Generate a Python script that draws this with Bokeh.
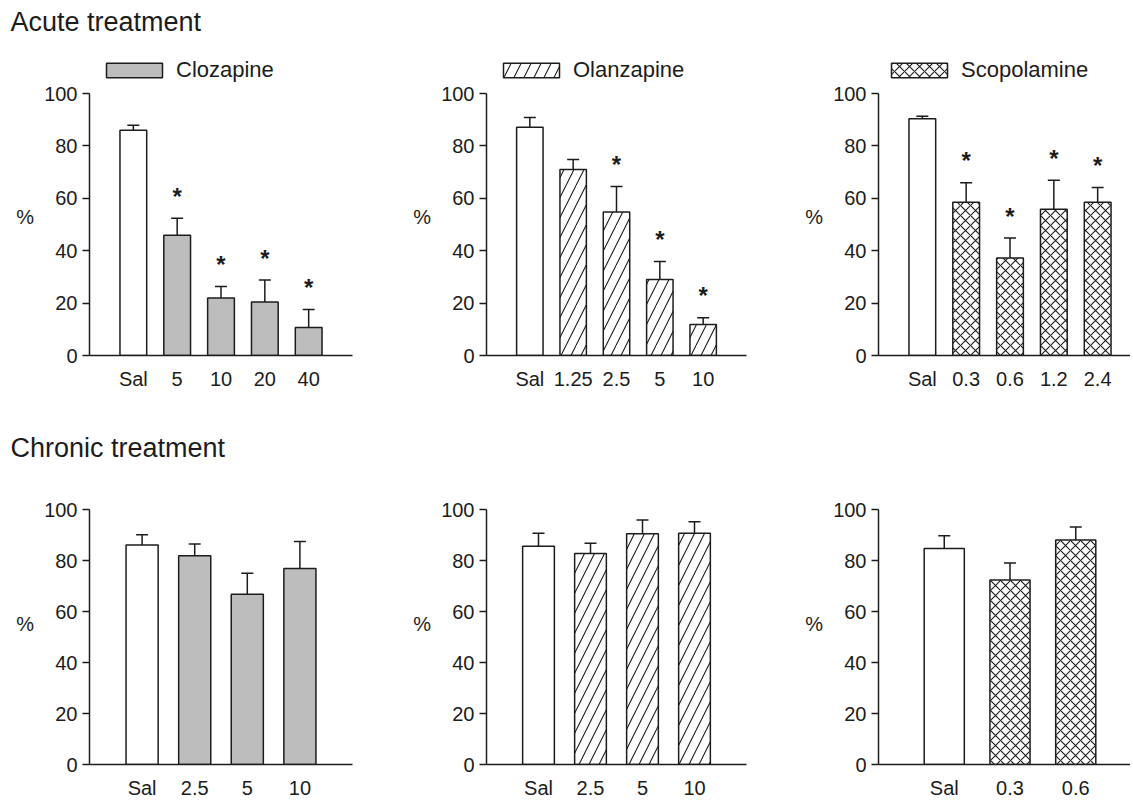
from bokeh.plotting import figure
from bokeh.models import (ColumnDataSource, Range1d, FixedTicker, Whisker, TeeHead,
                          Label, Legend, LegendItem)
from bokeh.layouts import row, column
from bokeh.core.properties import value
from bokeh.embed import file_html
from bokeh.resources import INLINE

# ---------------- data ----------------
acute_cloz_labels = ["Sal", "5", "10", "20", "40"]
acute_cloz_mean = [86.0, 45.9, 21.9, 20.4, 10.7]
acute_cloz_sem = [1.9, 6.5, 4.4, 8.4, 6.9]
acute_cloz_sig = [False, True, True, True, True]

acute_olz_labels = ["Sal", "1.25", "2.5", "5", "10"]
acute_olz_mean = [87.1, 71.0, 54.8, 29.0, 11.8]
acute_olz_sem = [3.7, 3.8, 9.7, 6.9, 2.6]
acute_olz_sig = [False, False, True, True, True]

acute_scop_labels = ["Sal", "0.3", "0.6", "1.2", "2.4"]
acute_scop_mean = [90.4, 58.5, 37.2, 55.8, 58.5]
acute_scop_sem = [0.9, 7.4, 7.6, 11.1, 5.6]
acute_scop_sig = [False, True, True, True, True]

chronic_cloz_labels = ["Sal", "2.5", "5", "10"]
chronic_cloz_mean = [86.1, 81.9, 66.8, 76.9]
chronic_cloz_sem = [4.0, 4.6, 8.2, 10.6]
chronic_cloz_sig = [False, False, False, False]

chronic_olz_labels = ["Sal", "2.5", "5", "10"]
chronic_olz_mean = [85.6, 82.7, 90.5, 90.7]
chronic_olz_sem = [5.1, 4.1, 5.4, 4.5]
chronic_olz_sig = [False, False, False, False]

chronic_scop_labels = ["Sal", "0.3", "0.6"]
chronic_scop_mean = [84.7, 72.4, 88.0]
chronic_scop_sem = [5.0, 6.6, 5.1]
chronic_scop_sig = [False, False, False]

drug_names = ["Clozapine", "Olanzapine", "Scopolamine"]
drug_kinds = ["solid", "diag", "cross"]
section_titles = ["Acute treatment", "Chronic treatment"]
y_ticks = [0, 20, 40, 60, 80, 100]
y_axis_label = "%"

# ---------------- styling / layout ----------------
FONT = "Liberation Sans"
INK = "#1c1c1c"
GRAY = "#bdbdbd"
REF_FRAME_W = 263
PLOT_H = 262            # pixel height of the 0..100 span
BAR_W = 0.61

COLS = [(410, 89, 58), (390, 73, 54), (330, 78, 0)]   # width, border left, border right
LEGEND_DX = [10, 10, 6]
TOTAL_W = sum(c[0] for c in COLS)
HEAD1_H, HEAD2_H = 45, 60
TOP_ROW = (365, 7, 55)      # height, border top, border bottom
BOT_ROW = (331, 39, 30)


def drug_style(kind):
    if kind == "solid":
        return dict(fill_color=GRAY)
    if kind == "diag":
        return dict(fill_color="white", hatch_pattern="/", hatch_color=INK,
                    hatch_scale=20, hatch_weight=1.1)
    return dict(fill_color="white", hatch_pattern="x", hatch_color=INK,
                hatch_scale=10, hatch_weight=1.1)


def header(height, title, title_y):
    h = figure(width=TOTAL_W, height=height, x_range=Range1d(0, TOTAL_W), y_range=Range1d(0, height),
               output_backend="svg", toolbar_location=None, title=None,
               x_axis_type=None, y_axis_type=None, min_border=0)
    h.outline_line_color = None
    h.add_layout(Label(x=10, y=title_y, x_units="screen", y_units="screen", text=title,
                       text_font=FONT, text_font_size="27px", text_baseline="alphabetic",
                       text_align="left", text_color=INK))
    return h


def panel(labels, means, sems, sig, kind, width, height, left, right, top, bottom,
          legend_name=None, legend_dx=10):
    n = len(labels)
    frame_w = width - left - right
    frame_h = height - top - bottom
    unit = REF_FRAME_W / (n + 1)
    x_end = -1 + frame_w / unit
    y_end = 100.0 * frame_h / PLOT_H
    p = figure(width=width, height=height, x_range=Range1d(-1, x_end), y_range=Range1d(0, y_end),
               output_backend="svg", toolbar_location=None, title=None,
               min_border_left=left, min_border_right=right,
               min_border_top=top, min_border_bottom=bottom)
    p.outline_line_color = None
    p.grid.visible = False

    idx = list(range(n))
    upper = [m + s for m, s in zip(means, sems)]

    sal_src = ColumnDataSource(dict(x=idx[:1], top=means[:1]))
    drug_src = ColumnDataSource(dict(x=idx[1:], top=means[1:]))
    p.vbar(x="x", top="top", bottom=0, width=BAR_W, source=sal_src,
           fill_color="white", line_color=INK, line_width=1.5)
    dr = p.vbar(x="x", top="top", bottom=0, width=BAR_W, source=drug_src,
                line_color=INK, line_width=1.5, **drug_style(kind))

    err_src = ColumnDataSource(dict(x=idx, lower=means, upper=upper))
    p.add_layout(Whisker(base="x", lower="lower", upper="upper", source=err_src,
                         dimension="height", line_color=INK, line_width=1.5,
                         upper_head=TeeHead(size=12, line_color=INK, line_width=1.5),
                         lower_head=None))

    sx = [i for i in idx if sig[i]]
    if sx:
        star_src = ColumnDataSource(dict(x=sx, y=[upper[i] for i in sx], t=["*"] * len(sx)))
        p.text(x="x", y="y", text="t", source=star_src, text_font=value(FONT),
               text_font_style="bold", text_font_size="24px", text_align="center",
               text_baseline="alphabetic", y_offset=-22, text_color=INK)

    xa = p.xaxis[0]
    xa.ticker = FixedTicker(ticks=idx)
    xa.major_label_overrides = {i: lab for i, lab in zip(idx, labels)}
    xa.major_tick_line_color = None
    xa.minor_tick_line_color = None
    xa.major_tick_out = 0
    xa.major_tick_in = 0
    xa.axis_line_color = INK
    xa.axis_line_width = 1.5
    xa.major_label_standoff = 12
    xa.major_label_text_font = FONT
    xa.major_label_text_font_size = "20px"
    xa.major_label_text_color = INK

    ya = p.yaxis[0]
    ya.ticker = FixedTicker(ticks=y_ticks)
    ya.bounds = (0, 100)
    ya.minor_tick_line_color = None
    ya.major_tick_out = 7
    ya.major_tick_in = 0
    ya.major_tick_line_color = INK
    ya.major_tick_line_width = 1.5
    ya.axis_line_color = INK
    ya.axis_line_width = 1.5
    ya.major_label_standoff = 5
    ya.major_label_text_font = FONT
    ya.major_label_text_font_size = "20px"
    ya.major_label_text_color = INK
    # the label block is centred on the frame; an empty line nudges "%" to the reference height
    ya.axis_label = ("\n" + y_axis_label) if legend_name is not None else (y_axis_label + "\n")
    ya.axis_label_orientation = "horizontal"
    ya.axis_label_text_font = FONT
    ya.axis_label_text_font_style = "normal"
    ya.axis_label_text_font_size = "20px"
    ya.axis_label_text_color = INK
    ya.axis_label_standoff = 7

    if legend_name is not None:
        leg_bottom = (355 - 70) - 12.5   # frame-relative px: swatch centred ~23 px above the 100 line
        leg = Legend(items=[LegendItem(label=legend_name, renderers=[dr])],
                     location=(legend_dx, leg_bottom),
                     glyph_width=70, glyph_height=18, label_standoff=7, padding=0, margin=0,
                     spacing=0, border_line_color=None, background_fill_alpha=0,
                     label_text_font=FONT, label_text_font_size="22px",
                     label_text_color=INK, label_height=18)
        p.add_layout(leg)
    return p


acute_sets = [
    (acute_cloz_labels, acute_cloz_mean, acute_cloz_sem, acute_cloz_sig),
    (acute_olz_labels, acute_olz_mean, acute_olz_sem, acute_olz_sig),
    (acute_scop_labels, acute_scop_mean, acute_scop_sem, acute_scop_sig),
]
chronic_sets = [
    (chronic_cloz_labels, chronic_cloz_mean, chronic_cloz_sem, chronic_cloz_sig),
    (chronic_olz_labels, chronic_olz_mean, chronic_olz_sem, chronic_olz_sig),
    (chronic_scop_labels, chronic_scop_mean, chronic_scop_sem, chronic_scop_sig),
]

top_figs = []
for k, (labs, mean, sem, sig) in enumerate(acute_sets):
    w, l, r = COLS[k]
    h, t, b = TOP_ROW
    top_figs.append(panel(labs, mean, sem, sig, drug_kinds[k], w, h, l, r, t, b,
                          legend_name=drug_names[k], legend_dx=LEGEND_DX[k]))

bot_figs = []
for k, (labs, mean, sem, sig) in enumerate(chronic_sets):
    w, l, r = COLS[k]
    h, t, b = BOT_ROW
    bot_figs.append(panel(labs, mean, sem, sig, drug_kinds[k], w, h, l, r, t, b))

head1 = header(HEAD1_H, section_titles[0], HEAD1_H - 31 + 10)
head2 = header(HEAD2_H, section_titles[1], HEAD2_H - 47 + 10)

layout = column(head1, row(*top_figs, spacing=0), head2, row(*bot_figs, spacing=0), spacing=0)

open("out.html", "w").write(file_html(layout, INLINE))
